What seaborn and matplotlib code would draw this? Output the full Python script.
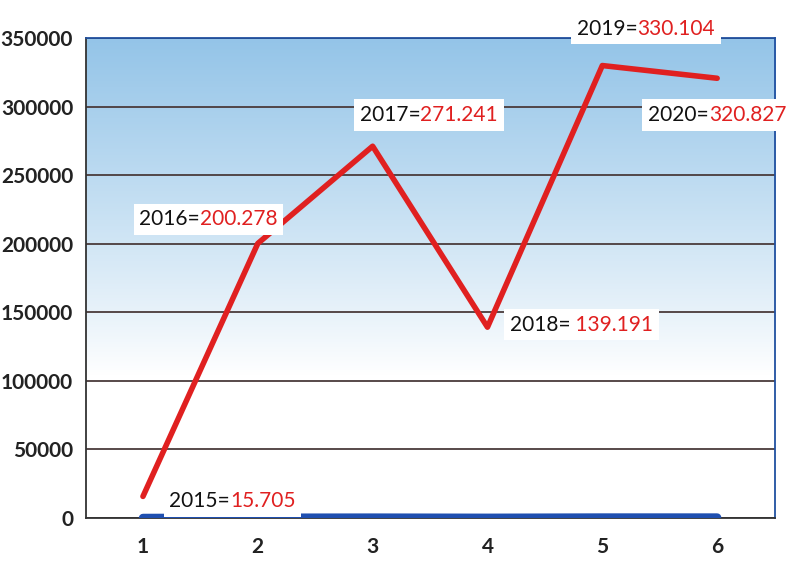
# Line chart of yearly values 2015-2020 in an Excel-like style.
import numpy as np
import pandas as pd
import seaborn as sns
import matplotlib.pyplot as plt
from matplotlib.offsetbox import TextArea, HPacker, AnnotationBbox

# data
points = [1, 2, 3, 4, 5, 6]
years = ['2015', '2016', '2017', '2018', '2019', '2020']
red_values = [15705, 200278, 271241, 139191, 330104, 320827]
blue_values = [15.705, 200.278, 271.241, 139.191, 330.104, 320.827]
value_texts = ['15.705', '200.278', '271.241', ' 139.191', '330.104', '320.827']

# where each label box sits (data coords)
label_x = [1.78, 1.57, 3.49, 4.82, 5.38, 6.0]
label_y = [12000, 218000, 294000, 141000, 357000, 294000]

df = pd.DataFrame({'Point': points, 'Red': red_values, 'Blue': blue_values})

sns.set_style('white')
plt.rcParams['font.family'] = ['Lato', 'DejaVu Sans']

fig = plt.figure(figsize=(7.92, 5.8), dpi=100)
ax = fig.add_axes([0.108, 0.107, 0.87, 0.827])

# blue-to-white background gradient
grad = np.linspace(1, 0, 256).reshape(-1, 1)
grad = np.clip((grad - 0.3) / 0.7, 0, 1) ** 0.9
top = np.array([0.58, 0.77, 0.91])
white = np.array([1.0, 1.0, 1.0])
img = white + (top - white) * grad[..., None]
ax.imshow(img, extent=[0, 1, 0, 1], transform=ax.transAxes, aspect='auto', zorder=0)

sns.lineplot(data=df, x='Point', y='Blue', color='#1f4fb0', linewidth=6, ax=ax, zorder=3)
sns.lineplot(data=df, x='Point', y='Red', color='#e02020', linewidth=4, ax=ax, zorder=4)

ax.set_xlim(0.5, 6.5)
ax.set_ylim(0, 350000)
ax.set_yticks(range(0, 350001, 50000))
ax.set_yticklabels([str(v) for v in range(0, 350001, 50000)], fontsize=15,
                   fontweight='bold', color='#222222')
ax.set_xticks(points)
ax.set_xticklabels([str(p) for p in points], fontsize=15, fontweight='bold', color='#222222')
ax.set_xticks(np.arange(1.5, 6.5, 1), minor=True)
ax.tick_params(axis='x', which='major', length=0, pad=14)
ax.tick_params(axis='x', which='minor', length=5, color='#444444')
ax.tick_params(axis='y', length=5, color='#444444', pad=4)
ax.set_xlabel('')
ax.set_ylabel('')
ax.grid(axis='y', color='#4a3b3b', linewidth=1.3, zorder=1)
ax.set_axisbelow(True)

for side in ['top', 'right']:
    ax.spines[side].set_color('#2050a0')
    ax.spines[side].set_linewidth(1.3)
for side in ['left', 'bottom']:
    ax.spines[side].set_color('#333333')
    ax.spines[side].set_linewidth(1.3)

# labels: "year=" in black, value in red, on white boxes
for yr, txt, lx, ly in zip(years, value_texts, label_x, label_y):
    box = HPacker(children=[
        TextArea(yr + '=', textprops=dict(color='#111111', fontsize=15)),
        TextArea(txt, textprops=dict(color='#e02020', fontsize=15)),
    ], sep=0, pad=0, align='baseline')
    ab = AnnotationBbox(box, (lx, ly), xycoords='data', frameon=True, pad=0.4,
                        bboxprops=dict(facecolor='white', edgecolor='none'),
                        annotation_clip=False, zorder=6)
    ax.add_artist(ab)

plt.savefig('out.png', dpi=100)
